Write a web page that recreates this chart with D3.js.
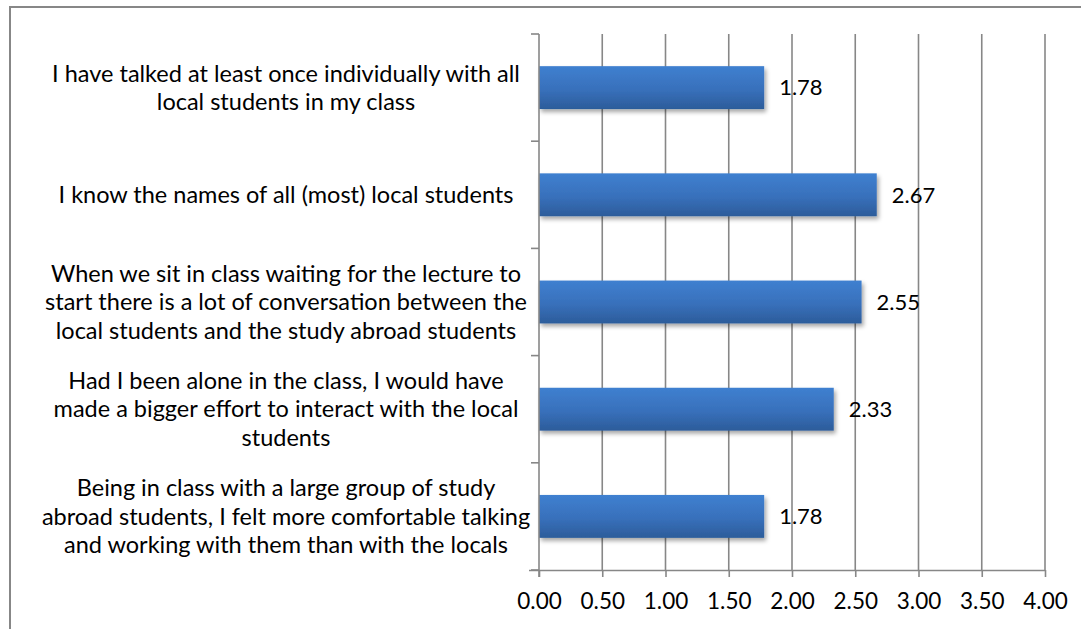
<!DOCTYPE html>
<html>
<head>
<meta charset="utf-8">
<script src="https://cdn.jsdelivr.net/npm/d3@7"></script>
<style>
  html, body { margin: 0; padding: 0; background: #fff; }
  svg { display: block; font-family: Lato, "Open Sans", sans-serif; }
</style>
</head>
<body>
<svg id="chart" width="1081" height="629"></svg>
<script>
// Survey statements (top to bottom) and their mean scores
const categories = [
  ["I have talked at least once individually with all", "local students in my class"],
  ["I know the names of all (most) local students"],
  ["When we sit in class waiting for the lecture to", "start there is a lot of conversation between the", "local students and the study abroad students"],
  ["Had I been alone in the class, I would have", "made a bigger effort to interact with the local", "students"],
  ["Being in class with a large group of study", "abroad students, I felt more comfortable talking", "and working with them than with the locals"]
];
const values = [1.78, 2.67, 2.55, 2.33, 1.78];
const tickValues = [0, 0.5, 1, 1.5, 2, 2.5, 3, 3.5, 4];

const svg = d3.select("#chart");
const margin = { left: 539, right: 36, top: 34, bottom: 59 };
const W = 1081, H = 629;
const innerW = W - margin.left - margin.right;
const innerH = H - margin.top - margin.bottom;
const gridColor = "#878787";

// Outer chart frame
svg.append("rect")
  .attr("x", 10).attr("y", 7)
  .attr("width", 1100).attr("height", 700)
  .attr("fill", "none").attr("stroke", gridColor).attr("stroke-width", 2);

const defs = svg.append("defs");
const grad = defs.append("linearGradient")
  .attr("id", "barFill").attr("x1", 0).attr("y1", 0).attr("x2", 0).attr("y2", 1);
grad.append("stop").attr("offset", "0%").attr("stop-color", "#3f80d0");
grad.append("stop").attr("offset", "55%").attr("stop-color", "#3870bb");
grad.append("stop").attr("offset", "100%").attr("stop-color", "#2c5c9a");

const shadow = defs.append("filter").attr("id", "barShadow")
  .attr("x", "-5%").attr("y", "-20%").attr("width", "115%").attr("height", "160%");
shadow.append("feDropShadow")
  .attr("dx", 2).attr("dy", 3).attr("stdDeviation", 2.2)
  .attr("flood-color", "#000").attr("flood-opacity", 0.35);

const g = svg.append("g").attr("transform", `translate(${margin.left},${margin.top})`);

const x = d3.scaleLinear().domain([0, 4]).range([0, innerW]);
const y = d3.scaleBand().domain(d3.range(categories.length)).range([0, innerH]).paddingInner(0.6).paddingOuter(0.3);
const yBand = d3.scaleBand().domain(d3.range(categories.length)).range([0, innerH]);

// Vertical gridlines
g.append("g").selectAll("line")
  .data(tickValues.filter(d => d > 0))
  .join("line")
  .attr("x1", d => x(d)).attr("x2", d => x(d))
  .attr("y1", 0).attr("y2", innerH)
  .attr("stroke", gridColor).attr("stroke-width", 1.6);

// Bars
g.append("g").selectAll("rect")
  .data(values)
  .join("rect")
  .attr("x", 0)
  .attr("y", (d, i) => y(i))
  .attr("width", d => x(d))
  .attr("height", y.bandwidth())
  .attr("fill", "url(#barFill)")
  .attr("filter", "url(#barShadow)");

// Value labels
g.append("g").selectAll("text")
  .data(values)
  .join("text")
  .attr("x", d => x(d) + 15)
  .attr("y", (d, i) => y(i) + y.bandwidth() / 2)
  .attr("dy", "0.35em")
  .attr("font-size", 22)
  .attr("fill", "#000")
  .text(d => d.toFixed(2));

// X axis
const xAxis = g.append("g")
  .attr("transform", `translate(0,${innerH})`)
  .call(d3.axisBottom(x).tickValues(tickValues).tickFormat(d3.format(".2f")).tickSize(7).tickSizeOuter(0));
xAxis.select(".domain").attr("stroke", gridColor).attr("stroke-width", 1.6)
  .attr("d", `M-10,0.5H${innerW}`);
xAxis.selectAll(".tick line").attr("stroke", gridColor).attr("stroke-width", 1.6);
xAxis.selectAll(".tick text").attr("font-size", 22.5).attr("fill", "#000").attr("dy", "0").attr("y", 39)
  .attr("font-family", "Lato, 'Open Sans', sans-serif");

// Y axis with ticks at band boundaries
const yAxis = g.append("g");
yAxis.append("line")
  .attr("x1", 0).attr("x2", 0).attr("y1", 0).attr("y2", innerH + 7)
  .attr("stroke", gridColor).attr("stroke-width", 1.6);
yAxis.selectAll("line.cat")
  .data(d3.range(categories.length + 1))
  .join("line").attr("class", "cat")
  .attr("x1", -8).attr("x2", 0)
  .attr("y1", i => i * yBand.step()).attr("y2", i => i * yBand.step())
  .attr("stroke", gridColor).attr("stroke-width", 1.6);

// Category labels, wrapped and centred
const lineH = 28.5;
const labels = g.append("g").selectAll("text")
  .data(categories)
  .join("text")
  .attr("text-anchor", "middle")
  .attr("font-size", 23.5)
  .attr("fill", "#000")
  .attr("transform", (d, i) => `translate(${286 - margin.left},${yBand(i) + yBand.bandwidth() / 2})`);
labels.selectAll("tspan")
  .data(d => d.map((t, k) => ({ t, k, n: d.length })))
  .join("tspan")
  .attr("x", 0)
  .attr("y", d => (d.k - (d.n - 1) / 2) * lineH)
  .attr("dy", "0.35em")
  .text(d => d.t);
</script>
</body>
</html>
